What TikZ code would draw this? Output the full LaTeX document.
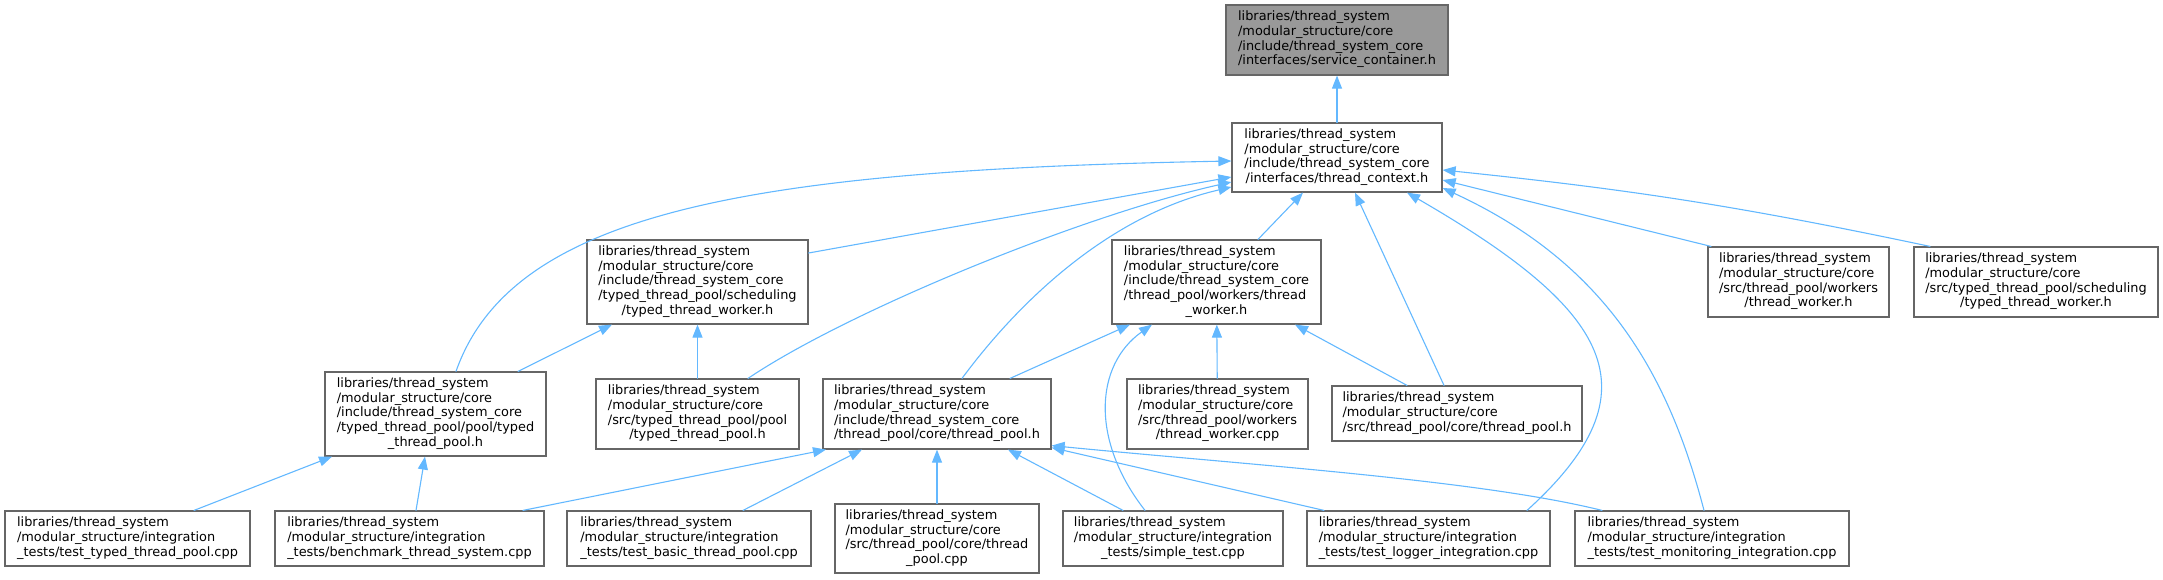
\documentclass[tikz,border=0pt]{standalone}
\usepackage{fontspec}
\setmainfont{DejaVu Sans}
\usetikzlibrary{arrows.meta}
\definecolor{doxedge}{HTML}{63B8FF}
\definecolor{doxframe}{HTML}{666666}
\definecolor{doxroot}{HTML}{999999}
\newcommand{\doxlabel}[2]{\begin{tabular}{@{}l@{}}#1\\\multicolumn{1}{@{}c@{}}{#2}\end{tabular}}

\begin{document}
\begin{tikzpicture}[x=1pt,y=-1pt]
\tikzset{
  filenode/.style={rectangle,draw=doxframe,line width=1.2pt,fill=white,inner sep=0pt,font=\fontsize{12.9}{14.7}\selectfont},
  rootnode/.style={filenode,fill=doxroot},
  includeedge/.style={draw=doxedge,line width=1.1pt,line cap=round,-{Triangle[length=13pt,width=10pt]}}
}
\useasboundingbox (0,0) rectangle (2163,579);
\node[rootnode,minimum width=222pt,minimum height=70pt] (n_svc) at (1337,40) {\doxlabel{libraries/thread\_system\\/modular\_structure/core\\/include/thread\_system\_core}{/interfaces/service\_container.h}};
\node[filenode,minimum width=210pt,minimum height=69pt] (n_ctx) at (1337,157.5) {\doxlabel{libraries/thread\_system\\/modular\_structure/core\\/include/thread\_system\_core}{/interfaces/thread\_context.h}};
\node[filenode,minimum width=221pt,minimum height=84pt] (n_itw) at (697.5,282) {\doxlabel{libraries/thread\_system\\/modular\_structure/core\\/include/thread\_system\_core\\/typed\_thread\_pool/scheduling}{/typed\_thread\_worker.h}};
\node[filenode,minimum width=209pt,minimum height=84pt] (n_iwk) at (1216.5,282) {\doxlabel{libraries/thread\_system\\/modular\_structure/core\\/include/thread\_system\_core\\/thread\_pool/workers/thread}{\_worker.h}};
\node[filenode,minimum width=181pt,minimum height=70pt] (n_swk) at (1798.5,282) {\doxlabel{libraries/thread\_system\\/modular\_structure/core\\/src/thread\_pool/workers}{/thread\_worker.h}};
\node[filenode,minimum width=244pt,minimum height=70pt] (n_ssc) at (2036,282) {\doxlabel{libraries/thread\_system\\/modular\_structure/core\\/src/typed\_thread\_pool/scheduling}{/typed\_thread\_worker.h}};
\node[filenode,minimum width=221pt,minimum height=84pt] (n_itp) at (435.5,414) {\doxlabel{libraries/thread\_system\\/modular\_structure/core\\/include/thread\_system\_core\\/typed\_thread\_pool/pool/typed}{\_thread\_pool.h}};
\node[filenode,minimum width=203pt,minimum height=70pt] (n_stp) at (697.5,414) {\doxlabel{libraries/thread\_system\\/modular\_structure/core\\/src/typed\_thread\_pool/pool}{/typed\_thread\_pool.h}};
\node[filenode,minimum width=228pt,minimum height=70pt] (n_ctp) at (937,414) {\doxlabel{libraries/thread\_system\\/modular\_structure/core\\/include/thread\_system\_core}{/thread\_pool/core/thread\_pool.h}};
\node[filenode,minimum width=181pt,minimum height=70pt] (n_wcpp) at (1217.5,414) {\doxlabel{libraries/thread\_system\\/modular\_structure/core\\/src/thread\_pool/workers}{/thread\_worker.cpp}};
\node[filenode,minimum width=250pt,minimum height=55pt] (n_scp) at (1457,413.5) {\doxlabel{libraries/thread\_system\\/modular\_structure/core}{/src/thread\_pool/core/thread\_pool.h}};
\node[filenode,minimum width=245pt,minimum height=55pt] (n_ttp) at (127.5,538.5) {\doxlabel{libraries/thread\_system\\/modular\_structure/integration}{\_tests/test\_typed\_thread\_pool.cpp}};
\node[filenode,minimum width=269pt,minimum height=55pt] (n_bts) at (409.5,538.5) {\doxlabel{libraries/thread\_system\\/modular\_structure/integration}{\_tests/benchmark\_thread\_system.cpp}};
\node[filenode,minimum width=244pt,minimum height=55pt] (n_tbp) at (689,538.5) {\doxlabel{libraries/thread\_system\\/modular\_structure/integration}{\_tests/test\_basic\_thread\_pool.cpp}};
\node[filenode,minimum width=204pt,minimum height=69pt] (n_tpc) at (937,538.5) {\doxlabel{libraries/thread\_system\\/modular\_structure/core\\/src/thread\_pool/core/thread}{\_pool.cpp}};
\node[filenode,minimum width=220pt,minimum height=55pt] (n_sim) at (1173,538.5) {\doxlabel{libraries/thread\_system\\/modular\_structure/integration}{\_tests/simple\_test.cpp}};
\node[filenode,minimum width=243pt,minimum height=55pt] (n_tli) at (1428.5,538.5) {\doxlabel{libraries/thread\_system\\/modular\_structure/integration}{\_tests/test\_logger\_integration.cpp}};
\node[filenode,minimum width=274pt,minimum height=55pt] (n_tmi) at (1712,538.5) {\doxlabel{libraries/thread\_system\\/modular\_structure/integration}{\_tests/test\_monitoring\_integration.cpp}};
\draw[includeedge] (n_ctx) -- (n_svc);
\draw[includeedge] ([xshift=20.5pt]n_itp.north) .. controls (512,212) and (750,170) .. ([yshift=-3.5pt]n_ctx.west);
\draw[includeedge] ([yshift=29pt]n_itw.east) -- ([yshift=-19.5pt]n_ctx.west);
\draw[includeedge] ([xshift=50.5pt]n_stp.north) .. controls (848,311) and (1083,215) .. ([yshift=-24.5pt]n_ctx.west);
\draw[includeedge] ([xshift=25pt]n_ctp.north) .. controls (1020,300) and (1110,215) .. ([yshift=-29.5pt]n_ctx.west);
\draw[includeedge] ([xshift=41.5pt]n_iwk.north) -- ([xshift=-34pt]n_ctx.south);
\draw[includeedge] ([xshift=-13pt]n_scp.north) -- ([xshift=18pt]n_ctx.south);
\draw[includeedge] ([xshift=98.5pt]n_tli.north) .. controls (1660,390) and (1610,310) .. ([xshift=70pt]n_ctx.south);
\draw[includeedge] ([xshift=-8pt]n_tmi.north) .. controls (1670,380) and (1610,265) .. ([yshift=-30.5pt]n_ctx.east);
\draw[includeedge] ([xshift=-87.5pt]n_swk.north) -- ([yshift=-22.5pt]n_ctx.east);
\draw[includeedge] ([xshift=-106pt]n_ssc.north) to[bend right=3] ([yshift=-12.5pt]n_ctx.east);
\draw[includeedge] ([xshift=73pt]n_ctp.north) -- ([xshift=-86.5pt]n_iwk.south);
\draw[includeedge] ([xshift=-28pt]n_sim.north) .. controls (1090,440) and (1095,365) .. ([xshift=-64.5pt]n_iwk.south);
\draw[includeedge] (n_wcpp) -- (n_iwk);
\draw[includeedge] ([xshift=-50pt]n_scp.north) -- ([xshift=78.5pt]n_iwk.south);
\draw[includeedge] ([xshift=113.5pt]n_bts.north) -- ([xshift=-111pt]n_ctp.south);
\draw[includeedge] ([xshift=54pt]n_tbp.north) -- ([xshift=-75pt]n_ctp.south);
\draw[includeedge] (n_tpc) -- (n_ctp);
\draw[includeedge] ([xshift=-50pt]n_sim.north) -- ([xshift=71pt]n_ctp.south);
\draw[includeedge] ([xshift=-104.5pt]n_tli.north) -- ([yshift=2pt]n_ctp.south east);
\draw[includeedge] ([xshift=-110pt]n_tmi.north) .. controls (1480,480) and (1250,465) .. ([yshift=4pt]n_ctp.south east);
\draw[includeedge] ([xshift=82.5pt]n_itp.north) -- ([xshift=-85.5pt]n_itw.south);
\draw[includeedge] (n_stp) -- (n_itw);
\draw[includeedge] ([xshift=66.5pt]n_ttp.north) -- ([xshift=-103.5pt]n_itp.south);
\draw[includeedge] ([xshift=6.5pt]n_bts.north) -- ([xshift=-10.5pt]n_itp.south);
\end{tikzpicture}
\end{document}
